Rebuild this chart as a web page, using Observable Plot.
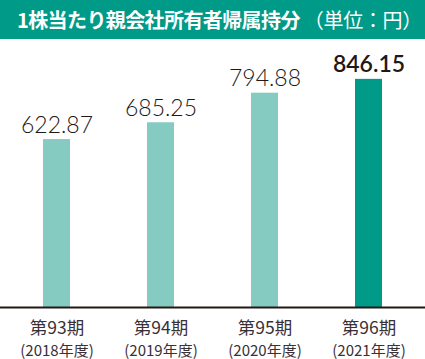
<!DOCTYPE html>
<html><head><meta charset="utf-8">
<script src="https://cdn.jsdelivr.net/npm/d3@7"></script>
<script src="https://cdn.jsdelivr.net/npm/@observablehq/plot@0.6"></script>
<style>
body{margin:0;background:#fff;width:425px;height:359px;overflow:hidden;font-family:"Noto Sans CJK JP","Noto Sans",sans-serif;}
#title{height:39px;background:#009a88;color:#fff;display:flex;align-items:center;padding-left:17px;box-sizing:border-box;white-space:nowrap;}
#title .main{font-size:20px;font-weight:700;letter-spacing:-0.6px;}
#title .unit{font-size:20px;font-weight:400;letter-spacing:-0.3px;margin-left:4px;}
</style></head><body>
<div id="title"><span class="main">1株当たり親会社所有者帰属持分</span><span class="unit">（単位：円）</span></div>
<div id="chart"></div>
<script>
const periods = ["第93期","第94期","第95期","第96期"];
const years = ["(2018年度)","(2019年度)","(2020年度)","(2021年度)"];
const values = [622.87, 685.25, 794.88, 846.15];
const highlight = [false, false, false, true];

const data = periods.map((p,i)=>({period:p, year:years[i], value:values[i], hl:highlight[i], label:values[i].toFixed(2)}));

const chart = Plot.plot({
  width:425, height:320,
  marginTop:0, marginBottom:52, marginLeft:0, marginRight:0,
  x:{domain:periods, paddingInner:0.74, paddingOuter:0.413, axis:null},
  y:{domain:[0,994], axis:null},
  style:{background:"transparent", fontFamily:"'Noto Sans CJK JP', sans-serif"},
  marks:[
    Plot.barY(data,{x:"period", y:"value", fill:d=>d.hl?"#009a88":"#86cbc2"}),
    Plot.ruleY([0],{stroke:"#231815", strokeWidth:2}),
    Plot.text(data.filter(d=>!d.hl),{x:"period", y:"value", text:"label", lineAnchor:"bottom", dy:-7, fontSize:23, fontWeight:300, fill:"#231815", fontFamily:"Lato, 'Open Sans', sans-serif"}),
    Plot.text(data.filter(d=>d.hl),{x:"period", y:"value", text:"label", lineAnchor:"bottom", dy:-7, fontSize:23, fontWeight:600, fill:"#231815", fontFamily:"Lato, 'Open Sans', sans-serif"}),
    Plot.text(data,{x:"period", frameAnchor:"bottom", text:"period", lineAnchor:"middle", dy:21, fontSize:17.5, fill:"#3a3035", letterSpacing:"-0.3px"}),
    Plot.text(data,{x:"period", frameAnchor:"bottom", text:"year", lineAnchor:"middle", dy:44, fontSize:15, fill:"#3a3035", letterSpacing:"-1.2px"})
  ]
});
document.getElementById("chart").appendChild(chart);
</script>
</body></html>
